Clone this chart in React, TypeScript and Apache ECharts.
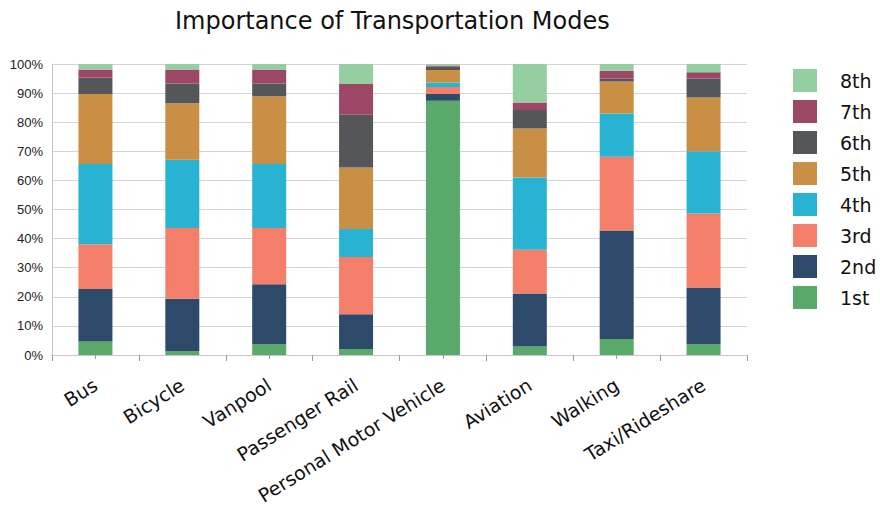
import React, { useEffect, useRef } from "react";
import * as echarts from "echarts";

const categories = [
  "Bus",
  "Bicycle",
  "Vanpool",
  "Passenger Rail",
  "Personal Motor Vehicle",
  "Aviation",
  "Walking",
  "Taxi/Rideshare",
];

const rankNames = ["1st", "2nd", "3rd", "4th", "5th", "6th", "7th", "8th"];

const rank1 = [4.6, 1.4, 3.7, 2.1, 87.4, 2.9, 5.5, 3.7];
const rank2 = [18.1, 17.9, 20.6, 11.9, 2.3, 18.2, 37.3, 19.5];
const rank3 = [15.4, 24.3, 19.3, 19.7, 2.4, 15.1, 25.3, 25.4];
const rank4 = [27.5, 23.5, 22.0, 9.6, 1.5, 24.8, 14.9, 21.4];
const rank5 = [24.1, 19.4, 23.3, 21.1, 4.3, 16.8, 11.0, 18.5];
const rank6 = [5.7, 6.8, 4.4, 18.2, 1.2, 6.4, 1.0, 6.5];
const rank7 = [2.7, 4.8, 4.8, 10.5, 0.4, 2.6, 2.7, 2.2];
const rank8 = [1.9, 1.9, 1.9, 6.9, 0.5, 13.2, 2.3, 2.8];

const rankValues = [rank1, rank2, rank3, rank4, rank5, rank6, rank7, rank8];

const colors = [
  "#59a96a",
  "#2d4a6b",
  "#f37f6b",
  "#28b3d3",
  "#c98f45",
  "#555659",
  "#9d4767",
  "#95cea1",
];

const yTicks = [0, 10, 20, 30, 40, 50, 60, 70, 80, 90, 100];

const FONT = "'Liberation Sans', Arial, Helvetica, sans-serif";
const WIDE = "'DejaVu Sans', 'Liberation Sans', sans-serif";

export default function App() {
  const ref = useRef<HTMLDivElement>(null);

  useEffect(() => {
    document.body.style.margin = "0";
    if (!ref.current) return;
    const chart = echarts.init(ref.current, undefined, { renderer: "svg" });

    const series = rankNames.map((name, i) => ({
      name,
      type: "bar",
      stack: "total",
      xAxisIndex: 0,
      barWidth: 34,
      itemStyle: { color: colors[i] },
      data: rankValues[i],
    }));

    chart.setOption({
      animation: false,
      backgroundColor: "#ffffff",
      textStyle: { fontFamily: FONT },
      title: {
        text: "Importance of Transportation Modes",
        left: 175,
        top: 9,
        padding: 0,
        textStyle: {
          fontFamily: WIDE,
          fontSize: 24,
          fontWeight: "normal",
          color: "#111111",
        },
      },
      legend: {
        orient: "vertical",
        left: 793,
        top: 69,
        padding: 0,
        itemWidth: 24,
        itemHeight: 23,
        itemGap: 8,
        icon: "rect",
        data: [...rankNames].reverse(),
        textStyle: {
          fontFamily: WIDE,
          fontSize: 19,
          color: "#111111",
          padding: [0, 0, 0, 18],
        },
      },
      grid: {
        left: 52,
        right: 133,
        top: 64,
        bottom: 159,
        containLabel: false,
        outerBoundsMode: "none",
      },
      xAxis: [
        {
          type: "category",
          data: categories,
          position: "bottom",
          axisLine: { show: true, lineStyle: { color: "#c8c8c8", width: 1 } },
          axisTick: {
            show: true,
            alignWithLabel: false,
            length: 6,
            lineStyle: { color: "#9a9a9a" },
          },
          axisLabel: {
            rotate: 32,
            margin: 28,
            fontSize: 19,
            fontFamily: WIDE,
            color: "#111111",
            interval: 0,
          },
        },
        {
          type: "category",
          data: categories,
          position: "bottom",
          axisLine: { show: false },
          axisTick: {
            show: true,
            alignWithLabel: true,
            length: 4,
            lineStyle: { color: "#9a9a9a" },
          },
          axisLabel: { show: false },
        },
      ],
      yAxis: {
        type: "value",
        min: yTicks[0],
        max: yTicks[yTicks.length - 1],
        interval: 10,
        axisLine: { show: true, lineStyle: { color: "#c8c8c8" } },
        axisTick: { show: false },
        splitLine: { show: true, lineStyle: { color: "#d4d4d4", width: 1 } },
        axisLabel: {
          formatter: "{value}%",
          fontSize: 13,
          fontFamily: FONT,
          color: "#222222",
          margin: 9,
        },
      },
      series,
    });

    return () => {
      chart.dispose();
    };
  }, []);

  return <div ref={ref} style={{ width: 880, height: 514 }} />;
}
